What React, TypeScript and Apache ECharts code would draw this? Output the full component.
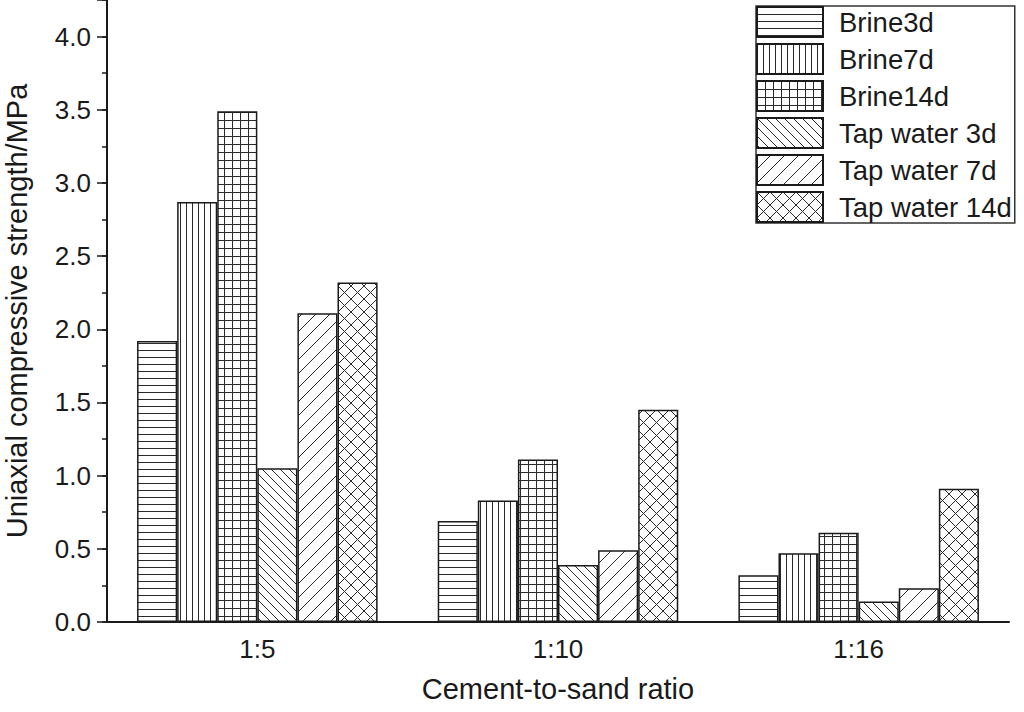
import React, { useEffect, useRef } from 'react';
import * as echarts from 'echarts';

const categories = ['1:5', '1:10', '1:16'];
const seriesNames = ['Brine3d', 'Brine7d', 'Brine14d', 'Tap water 3d', 'Tap water 7d', 'Tap water 14d'];
const brine3d = [1.92, 0.69, 0.32];
const brine7d = [2.87, 0.83, 0.47];
const brine14d = [3.49, 1.11, 0.61];
const tap3d = [1.05, 0.39, 0.14];
const tap7d = [2.11, 0.49, 0.23];
const tap14d = [2.32, 1.45, 0.91];
const seriesValues = [brine3d, brine7d, brine14d, tap3d, tap7d, tap14d];
const patternKinds = ['hlines', 'vlines', 'grid', 'back', 'fwd', 'cross'];

const FONT = "'Liberation Sans', Arial, Helvetica, sans-serif";
const INK = '#1a1a1a';

function makePattern(kind: string): any {
  let w = 8;
  let h = 8;
  if (kind === 'hlines') { w = 8; h = 7; }
  else if (kind === 'vlines') { w = 6; h = 8; }
  else if (kind === 'grid') { w = 8; h = 8; }
  else if (kind === 'back') { w = 9; h = 9; }
  else if (kind === 'fwd') { w = 14; h = 14; }
  else if (kind === 'cross') { w = 13; h = 13; }
  const c = document.createElement('canvas');
  c.width = w;
  c.height = h;
  const ctx = c.getContext('2d')!;
  ctx.fillStyle = '#ffffff';
  ctx.fillRect(0, 0, w, h);
  ctx.strokeStyle = '#2a2a2a';
  ctx.lineWidth = 1;
  ctx.beginPath();
  if (kind === 'hlines' || kind === 'grid') {
    ctx.moveTo(0, 0.5);
    ctx.lineTo(w, 0.5);
  }
  if (kind === 'vlines' || kind === 'grid') {
    ctx.moveTo(0.5, 0);
    ctx.lineTo(0.5, h);
  }
  if (kind === 'back' || kind === 'cross') {
    for (const k of [-w, 0, w]) {
      ctx.moveTo(k, 0);
      ctx.lineTo(k + w, h);
    }
  }
  if (kind === 'fwd' || kind === 'cross') {
    for (const k of [-w, 0, w]) {
      ctx.moveTo(k, h);
      ctx.lineTo(k + w, 0);
    }
  }
  ctx.stroke();
  return { image: c.toDataURL(), repeat: 'repeat', imageWidth: w, imageHeight: h };
}

export default function App() {
  const ref = useRef<HTMLDivElement>(null);
  useEffect(() => {
    const chart = echarts.init(ref.current!, null, { renderer: 'svg' });
    const series = seriesNames.map((name, i) => ({
      name,
      type: 'bar',
      yAxisIndex: 0,
      data: seriesValues[i],
      barGap: '0%',
      barCategoryGap: '20%',
      itemStyle: {
        color: makePattern(patternKinds[i]),
        borderColor: INK,
        borderWidth: 1.5,
      },
      emphasis: { disabled: true },
    }));
    const option: any = {
      animation: false,
      backgroundColor: '#ffffff',
      textStyle: { fontFamily: FONT },
      grid: { left: 107, right: 15, top: 0, bottom: 90, containLabel: false, outerBoundsMode: 'none' },
      legend: {
        orient: 'vertical',
        left: 756,
        top: 6,
        padding: [0, 3, 0, 0],
        itemWidth: 66,
        itemHeight: 30,
        itemGap: 5,
        icon: 'rect',
        borderColor: '#333',
        borderWidth: 1.5,
        backgroundColor: '#ffffff',
        data: seriesNames,
        textStyle: { fontSize: 27.5, color: INK, fontFamily: FONT, padding: [0, 0, 0, 11] },
      },
      xAxis: {
        type: 'category',
        data: categories,
        axisLine: { lineStyle: { color: INK, width: 2 } },
        axisTick: { alignWithLabel: true, length: 10, lineStyle: { color: INK, width: 1.5 } },
        axisLabel: { fontSize: 26, color: INK, margin: 14, fontFamily: FONT },
        name: 'Cement-to-sand ratio',
        nameLocation: 'middle',
        nameGap: 52,
        nameTextStyle: { fontSize: 29, color: INK, fontFamily: FONT },
      },
      yAxis: [
        {
          type: 'value',
          min: 0,
          max: 4.25,
          interval: 0.5,
          axisLine: { show: true, lineStyle: { color: INK, width: 2 } },
          axisTick: { show: true, length: 10, lineStyle: { color: INK, width: 1.5 } },
          axisLabel: {
            fontSize: 26,
            color: INK,
            margin: 16,
            fontFamily: FONT,
            formatter: (v: number) => (Math.abs(v * 2 - Math.round(v * 2)) < 1e-6 ? v.toFixed(1) : ''),
          },
          splitLine: { show: false },
          name: 'Uniaxial compressive strength/MPa',
          nameLocation: 'middle',
          nameGap: 76,
          nameTextStyle: { fontSize: 29, color: INK, fontFamily: FONT },
        },
        {
          type: 'value',
          position: 'left',
          min: 0,
          max: 4.25,
          interval: 0.25,
          axisLine: { show: false },
          axisTick: { show: true, length: 5, lineStyle: { color: INK, width: 1.5 } },
          axisLabel: { show: false },
          splitLine: { show: false },
        },
      ],
      series,
    };
    chart.setOption(option);
    return () => chart.dispose();
  }, []);
  return (
    <div
      ref={ref}
      style={{ position: 'fixed', left: 0, top: 0, width: 1024, height: 712, background: '#fff' }}
    />
  );
}
